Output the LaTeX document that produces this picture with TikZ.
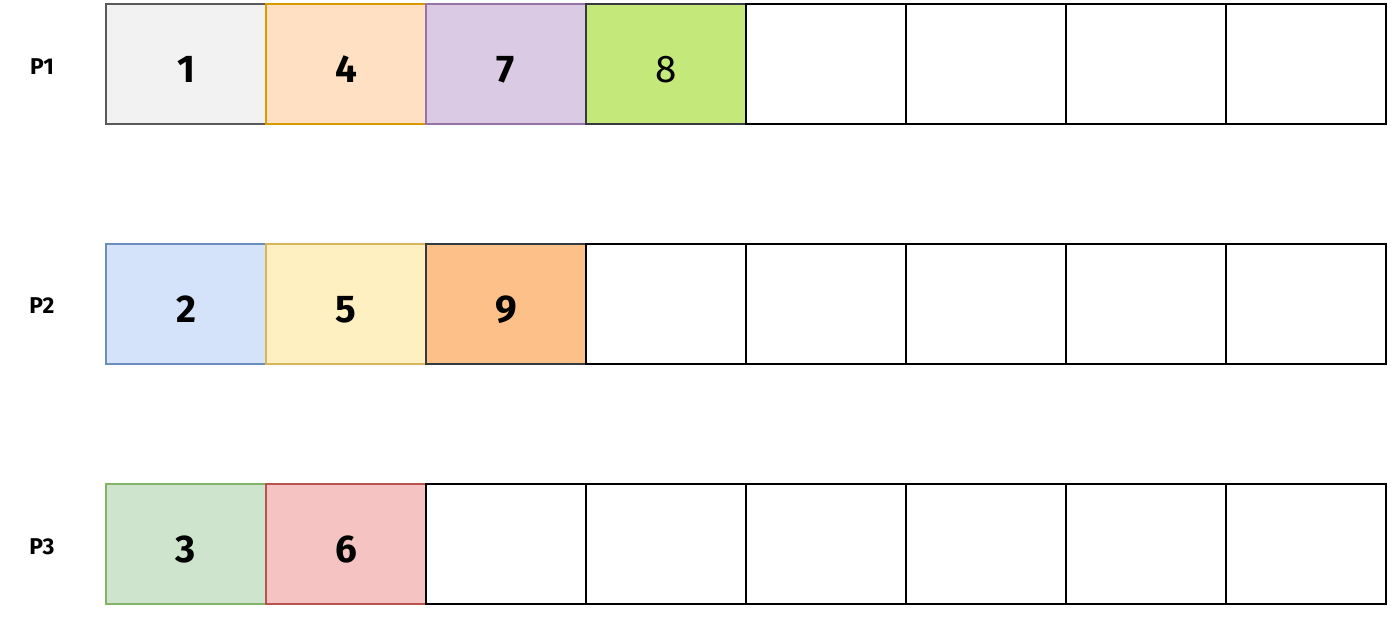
\documentclass[tikz,border=0pt]{standalone}
\usepackage{fontspec}
\setmainfont{Fira Sans}
\usepackage{tikz}
\definecolor{grayfill}{HTML}{F2F2F2}
\definecolor{graydraw}{HTML}{595959}
\definecolor{orangefill}{HTML}{FFE0C2}
\definecolor{orangedraw}{HTML}{D79B00}
\definecolor{purplefill}{HTML}{DACAE3}
\definecolor{purpledraw}{HTML}{9673A6}
\definecolor{limefill}{HTML}{C5E87A}
\definecolor{darkdraw}{HTML}{36393D}
\definecolor{bluefill}{HTML}{D4E3FA}
\definecolor{bluedraw}{HTML}{6C8EBF}
\definecolor{yellowfill}{HTML}{FFF0C2}
\definecolor{yellowdraw}{HTML}{D6B656}
\definecolor{peachfill}{HTML}{FDC088}
\definecolor{greenfill}{HTML}{CFE4CD}
\definecolor{greendraw}{HTML}{82B366}
\definecolor{redfill}{HTML}{F5C3C2}
\definecolor{reddraw}{HTML}{B85450}

\begin{document}
\begin{tikzpicture}[x=0.02cm,y=-0.02cm,
    cell/.style={draw=black,line width=1.1pt,minimum width=3.2cm,minimum height=2.4cm,
      inner sep=0pt,outer sep=0pt,text height=20.5pt,text depth=0pt,
      font=\fontsize{22}{24}\selectfont\bfseries},
    plabel/.style={font=\fontsize{13}{15}\selectfont\bfseries}]
    \useasboundingbox (0,0) rectangle (1398,622);
    % row labels
    \node[plabel] (lp1) at (42,67) {P1};
    \node[plabel] (lp2) at (42,306) {P2};
    \node[plabel] (lp3) at (42,547) {P3};
    % P1
    \node[cell,fill=grayfill,draw=graydraw] (a1) at (186,64) {1};
    \node[cell,fill=orangefill,draw=orangedraw] (a2) at (346,64) {4};
    \node[cell,fill=purplefill,draw=purpledraw] (a3) at (506,64) {7};
    \node[cell,fill=limefill,draw=darkdraw,font=\fontsize{22}{24}\selectfont] (a4) at (666,64) {8};
    \foreach \i in {5,...,8}
      \node[cell] (a\i) at (26+160*\i,64) {};
    % P2
    \node[cell,fill=bluefill,draw=bluedraw] (b1) at (186,304) {2};
    \node[cell,fill=yellowfill,draw=yellowdraw] (b2) at (346,304) {5};
    \node[cell,fill=peachfill,draw=darkdraw] (b3) at (506,304) {9};
    \foreach \i in {4,...,8}
      \node[cell] (b\i) at (26+160*\i,304) {};
    % P3
    \node[cell,fill=greenfill,draw=greendraw] (c1) at (186,544) {3};
    \node[cell,fill=redfill,draw=reddraw] (c2) at (346,544) {6};
    \foreach \i in {3,...,8}
      \node[cell] (c\i) at (26+160*\i,544) {};
\end{tikzpicture}
\end{document}
